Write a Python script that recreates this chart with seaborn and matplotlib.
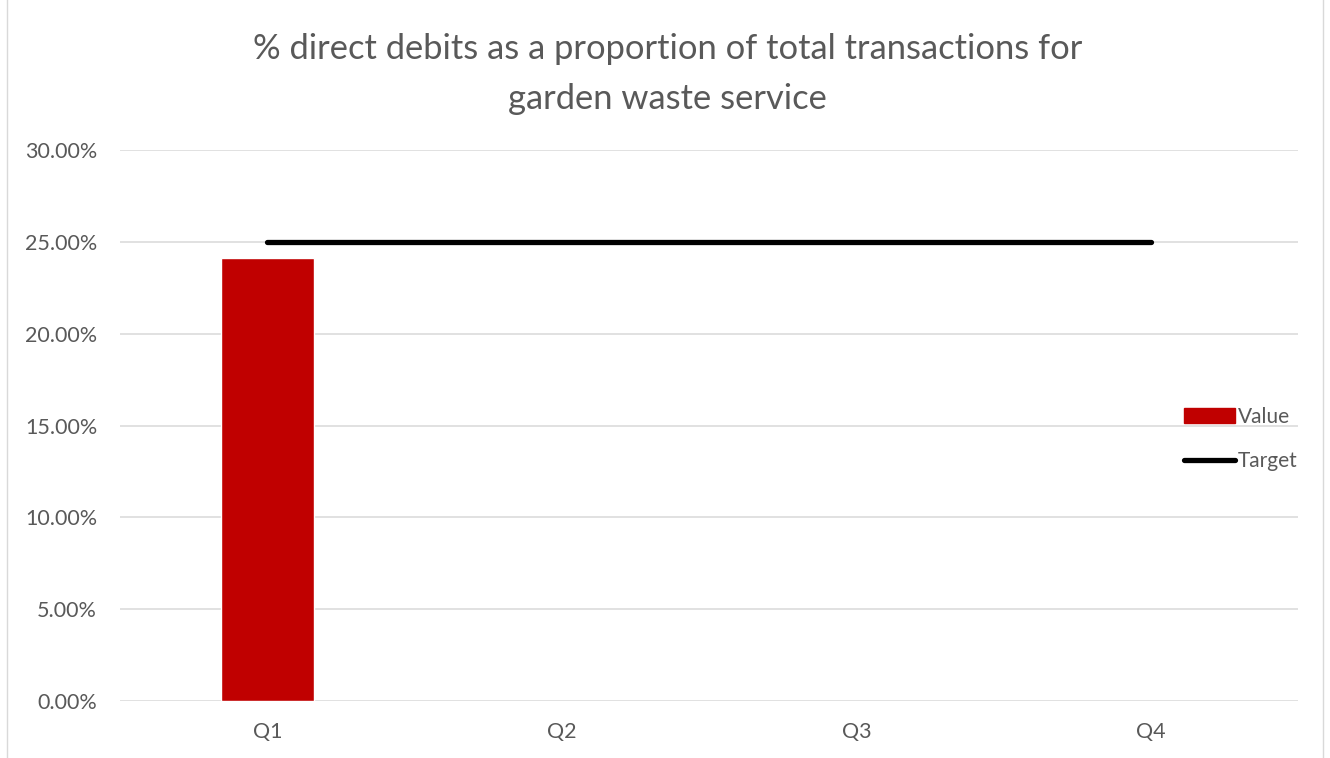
import numpy as np
import pandas as pd
import seaborn as sns
import matplotlib.pyplot as plt
from matplotlib.patches import Rectangle
from matplotlib.lines import Line2D
from matplotlib.ticker import PercentFormatter

# chart data
quarters = ['Q1', 'Q2', 'Q3', 'Q4']
value = [0.241, np.nan, np.nan, np.nan]
target = [0.25, 0.25, 0.25, 0.25]

df = pd.DataFrame({'quarter': quarters, 'value': value, 'target': target})

sns.set_theme(style='white')
plt.rcParams['font.family'] = ['Lato', 'DejaVu Sans']
grey = '#595959'

fig = plt.figure(figsize=(13.3, 7.58), dpi=100)
ax = fig.add_axes([0.0902, 0.0752, 0.886, 0.7269])

sns.barplot(data=df, x='quarter', y='value', color='#c00000', width=0.315,
            saturation=1, ax=ax, zorder=3)
sns.lineplot(data=df, x='quarter', y='target', color='black', linewidth=3.8,
             solid_capstyle='round', ax=ax, zorder=4)

ax.set_xlim(-0.5, 3.5)
ax.set_ylim(0, 0.30)
ax.set_yticks(np.arange(0, 0.301, 0.05))
ax.yaxis.set_major_formatter(PercentFormatter(1.0, decimals=2))
ax.grid(axis='y', color='#d9d9d9', linewidth=1.1, zorder=0)
ax.set_axisbelow(True)
for s in ax.spines.values():
    s.set_visible(False)
ax.tick_params(axis='both', length=0, labelsize=15.5, labelcolor=grey)
ax.tick_params(axis='x', pad=15)
ax.tick_params(axis='y', pad=16.5)
ax.set_xlabel('')
ax.set_ylabel('')

fig.suptitle('% direct debits as a proportion of total transactions for\ngarden waste service',
             x=0.502, y=0.957, fontsize=24.8, color=grey, linespacing=1.72)

handles = [Rectangle((0, 0), 1, 1, color='#c00000'),
           Line2D([0], [0], color='black', linewidth=3.8, solid_capstyle='round')]
fig.legend(handles, ['Value', 'Target'], loc='center left',
           bbox_to_anchor=(0.876, 0.421), frameon=False, fontsize=15,
           labelcolor=grey, handlelength=2.45, handletextpad=0.15,
           labelspacing=1.15)

fig.patches.append(Rectangle((0.005, -0.01), 0.99, 1.02, transform=fig.transFigure,
                             fill=False, edgecolor='#d9d9d9', linewidth=1))

fig.savefig('out.png', dpi=100, facecolor='white')
